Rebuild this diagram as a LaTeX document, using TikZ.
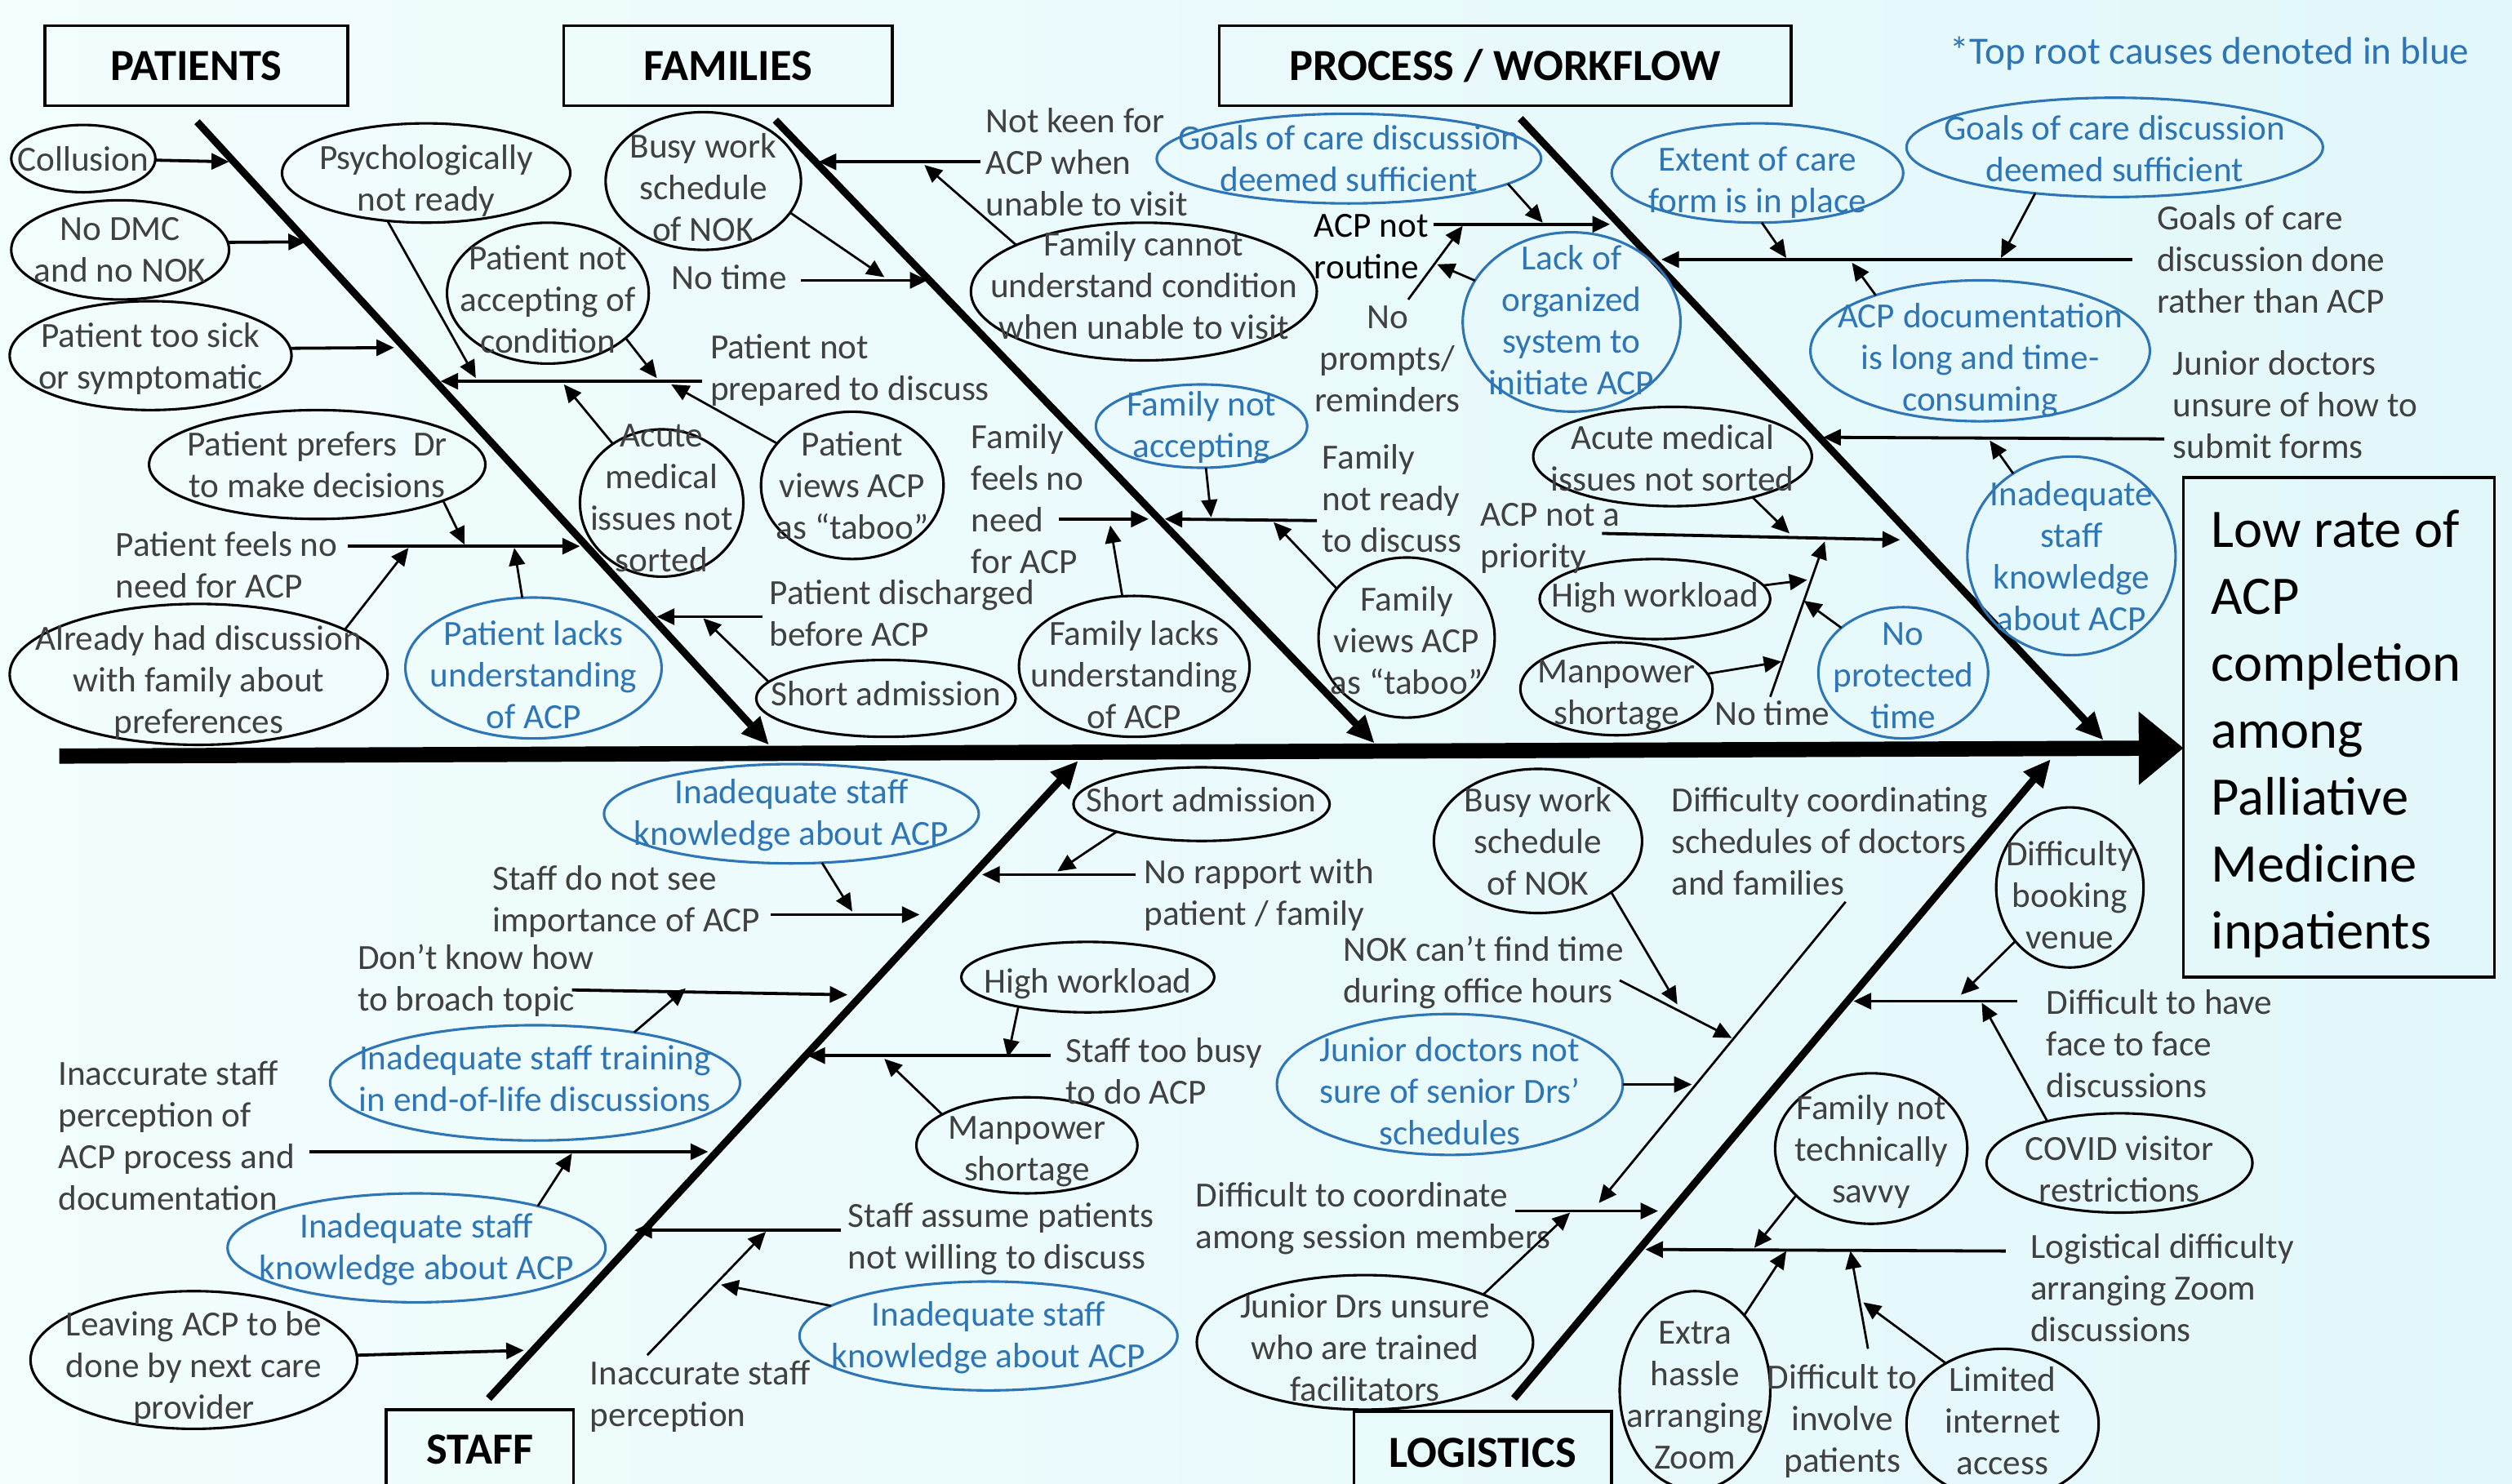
\documentclass[tikz,border=0pt]{standalone}
\usepackage{fontspec}
\setmainfont{Carlito}
\usetikzlibrary{arrows.meta,shapes.geometric}
\definecolor{bgL}{RGB}{242,253,253}
\definecolor{bgR}{RGB}{226,247,250}
\definecolor{blueC}{RGB}{46,117,182}
\definecolor{grayT}{RGB}{64,64,64}
\newcommand\bodyf{\fontsize{12.55}{14.8}\selectfont}
\newcommand\catf{\fontsize{15.8}{18}\selectfont\bfseries}
\newcommand\titf{\fontsize{19.3}{23.8}\selectfont}
\newcommand\notef{\fontsize{13.7}{16}\selectfont}
\newcommand\Ell[8][0]{%
  \node[e#7, minimum width=#5*0.04cm, minimum height=#6*0.04cm] (#2) at (#3,#4) {};
  \node[t#7] (#2t) at ({#3},{#4+(#1)}) {#8};}
\tikzset{
 ebk/.style={ellipse, draw=black, line width=0.9pt, inner sep=0pt, outer sep=0pt},
 ebl/.style={ellipse, draw=blueC, line width=0.9pt, inner sep=0pt, outer sep=0pt},
 tbk/.style={text=grayT, font=\bodyf, align=center, inner sep=0pt},
 tbl/.style={text=blueC, font=\bodyf, align=center, inner sep=0pt},
 lbl/.style={text=grayT, font=\bodyf, align=left, inner sep=0pt, anchor=west},
 catbox/.style={draw=black, line width=1pt, inner sep=0pt},
 cattxt/.style={font=\catf, inner sep=0pt},
 arr/.style={line width=0.8pt, -{Triangle[length=0.22cm,width=0.2cm]}},
 brl/.style={line width=1.1pt, -{Triangle[length=0.22cm,width=0.2cm]}},
 bone/.style={line width=2.6pt, -{Triangle[length=0.34cm,width=0.3cm]}},
}
\begin{document}
\begin{tikzpicture}[x=0.02cm, y=-0.02cm]
\useasboundingbox (0,0) rectangle (1568,926);
\clip (0,0) rectangle (1568,926);
\shade[left color=bgL, right color=bgR] (0,0) rectangle (1568,926);

% ---------- effect ----------
\node[draw, line width=1pt, minimum width=194*0.02cm, minimum height=312*0.02cm, inner sep=0pt] (effect) at (1460,454) {};
\node[anchor=west, align=left, font=\titf, inner sep=0pt] (efftxt) at (1380,458) {Low rate of\\ACP\\completion\\among\\Palliative\\Medicine\\inpatients};

% ---------- spine ----------
\coordinate (spL) at (37,472);
\coordinate (spT) at (1363,467);
\draw[line width=0.19cm, -{Triangle[length=0.56cm,width=0.88cm]}] (spL) -- (spT);

% ---------- category boxes ----------
\node[catbox, minimum width=189*0.02cm, minimum height=50*0.02cm] (catP) at (122.5,41) {};
\node[cattxt] (catPt) at (catP) {PATIENTS};
\node[catbox, minimum width=205*0.02cm, minimum height=50*0.02cm] (catF) at (454.5,41) {};
\node[cattxt] (catFt) at (catF) {FAMILIES};
\node[catbox, minimum width=357*0.02cm, minimum height=50*0.02cm] (catW) at (939.5,41) {};
\node[cattxt] (catWt) at (catW) {PROCESS / WORKFLOW};
\node[catbox, minimum width=117*0.02cm, minimum height=80*0.02cm] (catS) at (299.5,920) {};
\node[cattxt] (catSt) at (299.5,905) {STAFF};
\node[catbox, minimum width=161*0.02cm, minimum height=80*0.02cm] (catL) at (925.5,921) {};
\node[cattxt] (catLt) at (925.5,907) {LOGISTICS};

\node[anchor=west, text=blueC, font=\notef, inner sep=0pt] (note) at (1217,33.5) {*Top root causes denoted in blue};

% ---------- bones ----------
\coordinate (pb1) at (123,76);  \coordinate (pb2) at (480,465);
\coordinate (fb1) at (484,75);  \coordinate (fb2) at (858,464);
\coordinate (wb1) at (949,74);  \coordinate (wb2) at (1313,462);
\coordinate (sb1) at (305,873); \coordinate (sb2) at (673,475);
\coordinate (lb1) at (945,873); \coordinate (lb2) at (1280,474);
\draw[bone] (pb1) -- (pb2);
\draw[bone] (fb1) -- (fb2);
\draw[bone] (wb1) -- (wb2);
\draw[bone] (sb1) -- (sb2);
\draw[bone] (lb1) -- (lb2);

% ---------- PATIENTS ----------
\Ell{e1}{52}{99}{45}{21}{bk}{Collusion}
\Ell{e2}{75}{156}{68}{31}{bk}{No DMC\\and no NOK}
\Ell[2]{e3}{94}{222}{88}{34}{bk}{Patient too sick\\or symptomatic}
\Ell[5]{e4}{266}{108}{90}{31}{bk}{Psychologically\\not ready}
\Ell[4]{e5}{342}{183}{63}{44}{bk}{Patient not\\accepting of\\condition}
\Ell[-3]{e6}{413}{314}{51}{46}{bk}{Acute\\medical\\issues not\\sorted}
\Ell{e7}{532}{303}{57}{46}{bk}{Patient\\views ACP\\as “taboo”}
\Ell{e8}{198}{290}{105}{34}{bk}{Patient prefers~ Dr\\to make decisions}
\Ell[5]{e9}{124}{421}{118}{44}{bk}{Already had discussion\\with family about\\preferences}
\Ell[4]{e10}{333}{417}{80}{44}{bl}{Patient lacks\\understanding\\of ACP}
\Ell[-3]{e11}{553}{436}{81}{24}{bk}{Short admission}

\node[lbl] (tPnp) at (443,231) {Patient not\\prepared to discuss};
\node[lbl] (tPfn) at (72,352.5) {Patient feels no\\need for ACP};
\node[lbl] (tPdis) at (480,383) {Patient discharged\\before ACP};

\coordinate (a1) at (143,101); \draw[brl] (e1) -- (a1);
\coordinate (a2) at (191,151); \draw[brl] (e2.4) -- (a2);
\coordinate (a3) at (246,217); \draw[brl] (e3.3) -- (a3);
\coordinate (b1s) at (438,238); \coordinate (b1) at (275,238); \draw[brl] (b1s) -- (b1);
\coordinate (a4) at (297,236); \draw[arr] (e4.231) -- (a4);
\coordinate (a5) at (410,236); \draw[arr] (e5.330) -- (a5);
\coordinate (a6) at (352,240); \draw[arr] (e6) -- (a6);
\coordinate (a7) at (419,240); \draw[arr] (e7) -- (a7);
\coordinate (b2s) at (217,341); \coordinate (b2) at (362,341); \draw[brl] (b2s) -- (b2);
\coordinate (a8) at (290,340); \draw[arr] (e8.-16) -- (a8);
\coordinate (a9) at (255,342); \draw[arr] (e9.17) -- (a9);
\coordinate (a10) at (321,342); \draw[arr] (e10) -- (a10);
\coordinate (b3s) at (476,385); \coordinate (b3) at (410,385); \draw[brl] (b3s) -- (b3);
\coordinate (a11) at (439,386); \draw[arr] (e11.172) -- (a11);

% ---------- FAMILIES ----------
\Ell[4]{f1}{439}{113}{61}{43}{bk}{Busy work\\schedule\\of NOK}
\Ell[-4]{f2}{714}{182}{108}{43}{bk}{Family cannot\\understand condition\\when unable to visit}
\Ell[1]{f3}{750}{266}{66}{26}{bl}{Family not\\accepting}
\Ell[5]{f4}{708}{416}{72}{44}{bk}{Family lacks\\understanding\\of ACP}
\Ell[2]{f5}{878}{398}{55}{50}{bk}{Family\\views ACP\\as “taboo”}

\node[lbl] (tNoTimeF) at (419,173) {No time};
\node[lbl] (tNotKeen) at (615,101) {Not keen for\\ACP when\\unable to visit};
\node[lbl] (tFeelsNo) at (606,311.5) {Family\\feels no\\need\\for ACP};
\node[lbl] (tNotReady) at (825,311) {Family\\not ready\\to discuss};

\coordinate (c1s) at (612,101); \coordinate (c1) at (511,101); \draw[brl] (c1s) -- (c1);
\coordinate (c2) at (552,173); \draw[arr] (f1.-20) -- (c2);
\coordinate (c3s) at (500,175); \coordinate (c3) at (579,175); \draw[brl] (c3s) -- (c3);
\coordinate (c4) at (577,103); \draw[arr] (f2.160) -- (c4);
\coordinate (c5s) at (661,324); \coordinate (c5) at (717,324); \draw[brl] (c5s) -- (c5);
\coordinate (c6s) at (822,325); \coordinate (c6) at (727,324); \draw[brl] (c6s) -- (c6);
\coordinate (c7) at (756,323); \draw[arr] (f3) -- (c7);
\coordinate (c8) at (693,328); \draw[arr] (f4) -- (c8);
\coordinate (c9) at (795,326); \draw[arr] (f5.145) -- (c9);

% ---------- PROCESS / WORKFLOW ----------
\Ell{g1}{842}{99}{120}{28}{bl}{Goals of care discussion\\deemed sufficient}
\Ell[-1]{g2}{981}{201}{68}{56}{bl}{Lack of\\organized\\system to\\initiate ACP}
\Ell[6]{g3}{1097}{108}{91}{31}{bl}{Extent of care\\form is in place}
\Ell[1]{g4}{1320}{92}{130}{31}{bl}{Goals of care discussion\\deemed sufficient}
\Ell[6]{g5}{1236}{219}{106}{44}{bl}{ACP documentation\\is long and time-\\consuming}
\Ell{g6}{1293}{347}{65}{62}{bl}{Inadequate\\staff\\knowledge\\about ACP}
\Ell[1]{g7}{1044}{285}{87}{31}{bk}{Acute medical\\issues not sorted}
\Ell[-1]{g8}{1033}{374}{72}{25}{bk}{High workload}
\Ell[4]{g9}{1009}{430}{60}{29}{bk}{Manpower\\shortage}
\Ell[2]{g10}{1188}{420}{53}{41}{bl}{No\\protected\\time}

\node[lbl, text=black] (tRoutine) at (820,154) {ACP not\\routine};
\node[tbk] (tPrompts) at (866,224) {No\\prompts/\\reminders};
\node[lbl] (tGoalsDone) at (1346,162) {Goals of care\\discussion done\\rather than ACP};
\node[lbl] (tJrForms) at (1356,252.5) {Junior doctors\\unsure of how to\\submit forms};
\node[lbl] (tPriority) at (924,336) {ACP not a\\priority};
\node[lbl] (tNoTimeP) at (1070,445) {No time};

\coordinate (d1) at (963,139); \draw[arr] (g1.-9) -- (d1);
\coordinate (d2s) at (895,140); \coordinate (d2) at (1005,140); \draw[brl] (d2s) -- (d2);
\coordinate (d3s) at (879,187); \coordinate (d3) at (913,141); \draw[arr] (d3s) -- (d3);
\coordinate (d4) at (897,165); \draw[arr] (g2) -- (d4);
\coordinate (d5) at (1115,161); \draw[arr] (g3.-85) -- (d5);
\coordinate (d6s) at (1331,162); \coordinate (d6) at (1037,162); \draw[brl] (d6s) -- (d6);
\coordinate (d7) at (1249,161); \draw[arr] (g4.210) -- (d7);
\coordinate (d8) at (1156,164); \draw[arr] (g5.152) -- (d8);
\coordinate (d9s) at (1351,274); \coordinate (d9) at (1138,273); \draw[brl] (d9s) -- (d9);
\coordinate (d10) at (1242,275); \draw[arr] (g6) -- (d10);
\coordinate (d11) at (1117,333); \draw[arr] (g7.-27) -- (d11);
\coordinate (d12s) at (1000,333); \coordinate (d12) at (1186,337); \draw[brl] (d12s) -- (d12);
\coordinate (d13) at (1128,362); \draw[arr] (g8) -- (d13);
\coordinate (d14) at (1112,413); \draw[arr] (g9) -- (d14);
\coordinate (d15s) at (1105,435); \coordinate (d15) at (1139,338); \draw[arr] (d15s) -- (d15);
\coordinate (d16) at (1126,375); \draw[arr] (g10) -- (d16);

% ---------- STAFF ----------
\Ell[1]{s1}{494}{508}{117}{31}{bl}{Inadequate staff\\knowledge about ACP}
\Ell[-3]{s2}{750}{502}{80}{23}{bk}{Short admission}
\Ell[4]{s3}{679}{610}{79}{22}{bk}{High workload}
\Ell[-3]{s4}{334}{676}{128}{36}{bl}{Inadequate staff training\\in end-of-life discussions}
\Ell[4]{s5}{641}{715}{69}{30}{bk}{Manpower\\shortage}
\Ell[1]{s6}{260}{779}{118}{34}{bl}{Inadequate staff\\knowledge about ACP}
\Ell[1]{s7}{617}{834}{118}{34}{bl}{Inadequate staff\\knowledge about ACP}
\Ell[5]{s8}{121}{849}{102}{43}{bk}{Leaving ACP to be\\done by next care\\provider}

\node[lbl] (tNotSee) at (307,563) {Staff do not see\\importance of ACP};
\node[lbl] (tRapport) at (714,558.5) {No rapport with\\patient / family};
\node[lbl] (tBroach) at (223,612) {Don’t know how\\to broach topic};
\node[lbl] (tTooBusy) at (665,668.5) {Staff too busy\\to do ACP};
\node[lbl] (tInaccPerc) at (36,709) {Inaccurate staff\\perception of\\ACP process and\\documentation};
\node[lbl] (tAssume) at (529,773.5) {Staff assume patients\\not willing to discuss};
\node[lbl] (tInaccShort) at (368,871.5) {Inaccurate staff\\perception};

\coordinate (h1) at (532,569); \draw[arr] (s1) -- (h1);
\coordinate (h2s) at (481,571); \coordinate (h2) at (574,571); \draw[brl] (h2s) -- (h2);
\coordinate (h3) at (660,544); \draw[arr] (s2.198) -- (h3);
\coordinate (h4s) at (709,546); \coordinate (h4) at (613,546); \draw[brl] (h4s) -- (h4);
\coordinate (h5s) at (357,618); \coordinate (h5) at (529,621); \draw[brl] (h5s) -- (h5);
\coordinate (h6) at (428,617); \draw[arr] (s4.27) -- (h6);
\coordinate (h7) at (629,660); \draw[arr] (s3.203) -- (h7);
\coordinate (h8s) at (656,659); \coordinate (h8) at (504,659); \draw[brl] (h8s) -- (h8);
\coordinate (h9) at (552,661); \draw[arr] (s5.160) -- (h9);
\coordinate (h10s) at (193,719); \coordinate (h10) at (442,719); \draw[brl] (h10s) -- (h10);
\coordinate (h11) at (357,720); \draw[arr] (s6.19) -- (h11);
\coordinate (h12s) at (525,768); \coordinate (h12) at (396,768); \draw[brl] (h12s) -- (h12);
\coordinate (h13s) at (404,846); \coordinate (h13) at (478,769); \draw[arr] (h13s) -- (h13);
\coordinate (h14) at (450,802); \draw[arr] (s7) -- (h14);
\coordinate (h15) at (327,843); \draw[brl] (s8) -- (h15);

% ---------- LOGISTICS ----------
\Ell{l1}{960}{525}{65}{45}{bk}{Busy work\\schedule\\of NOK}
\Ell[4]{l2}{905}{677}{108}{44}{bl}{Junior doctors not\\sure of senior Drs’\\schedules}
\Ell[3]{l3}{852}{838}{105}{42}{bk}{Junior Drs unsure\\who are trained\\facilitators}
\Ell[5]{l4}{1292}{554}{46}{50}{bk}{Difficulty\\booking\\venue}
\Ell[4]{l5}{1323}{726}{83}{31}{bk}{COVID visitor\\restrictions}
\Ell[2]{l6}{1168}{717}{60}{47}{bk}{Family not\\technically\\savvy}
\Ell[3]{l7}{1058}{868}{47}{62}{bk}{Extra\\hassle\\arranging\\Zoom}
\Ell[-2]{l8}{1250}{889}{60}{47}{bk}{Limited\\internet\\access}

\node[lbl] (tDiffCoord) at (1043,525) {Difficulty coordinating\\schedules of doctors\\and families};
\node[lbl] (tNOK) at (838,607) {NOK can’t find time\\during office hours};
\node[lbl] (tSession) at (746,760.5) {Difficult to coordinate\\among session members};
\node[lbl] (tFace) at (1277,651.5) {Difficult to have\\face to face\\discussions};
\node[lbl] (tLogist) at (1267,804) {Logistical difficulty\\arranging Zoom\\discussions};
\node[tbk] (tInvolve) at (1150,887) {Difficult to\\involve\\patients};

\coordinate (k1) at (1047,627); \draw[arr] (l1.-35) -- (k1);
\coordinate (k2s) at (1152,563); \coordinate (k2) at (998,751); \draw[arr] (k2s) -- (k2);
\coordinate (k3s) at (1011,612); \coordinate (k3) at (1081,648); \draw[arr] (k3s) -- (k3);
\coordinate (k4) at (1056,677); \draw[arr] (l2) -- (k4);
\coordinate (k5s) at (946,756); \coordinate (k5) at (1035,756); \draw[brl] (k5s) -- (k5);
\coordinate (k6) at (980,757); \draw[arr] (l3.22) -- (k6);
\coordinate (k7) at (1224,621); \draw[arr] (l4) -- (k7);
\coordinate (k8s) at (1259,625); \coordinate (k8) at (1157,625); \draw[brl] (k8s) -- (k8);
\coordinate (k9) at (1237,626); \draw[arr] (l5.150) -- (k9);
\coordinate (k10s) at (1252,781); \coordinate (k10) at (1027,780); \draw[brl] (k10s) -- (k10);
\coordinate (k11) at (1095,779); \draw[arr] (l6.212) -- (k11);
\coordinate (k12) at (1115,781); \draw[arr] (l7) -- (k12);
\coordinate (k13s) at (1166,842); \coordinate (k13) at (1155,781); \draw[arr] (k13s) -- (k13);
\coordinate (k14) at (1163,813); \draw[arr] (l8.133) -- (k14);
\end{tikzpicture}
\end{document}
